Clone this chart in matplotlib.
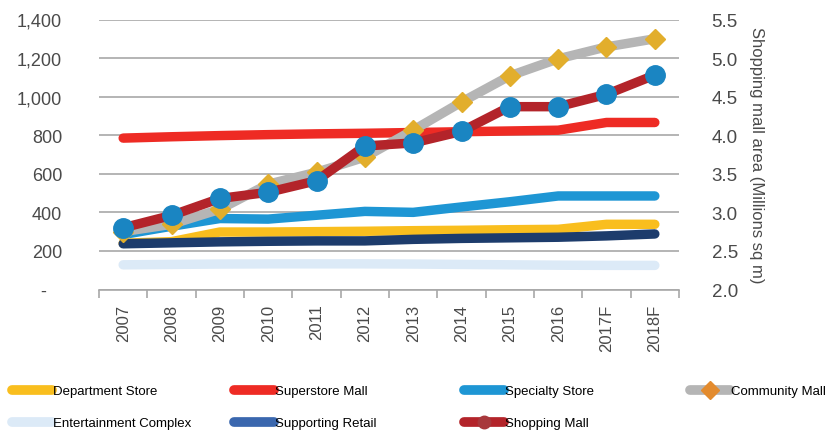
import matplotlib
matplotlib.use("Agg")
import matplotlib.pyplot as plt
from matplotlib.lines import Line2D
from matplotlib.ticker import FixedLocator, FuncFormatter
import numpy as np

plt.rcParams['font.family'] = ['Liberation Sans', 'DejaVu Sans']

# yearly figures (2017/2018 are forecasts)
years = ['2007', '2008', '2009', '2010', '2011', '2012',
         '2013', '2014', '2015', '2016', '2017F', '2018F']
department_store = [240, 248, 298, 298, 300, 302, 305, 307, 310, 312, 338, 338]
superstore_mall = [785, 792, 798, 803, 807, 810, 814, 818, 822, 826, 866, 866]
specialty_store = [285, 328, 368, 365, 385, 405, 400, 428, 455, 485, 485, 485]
community_mall = [300, 338, 416, 546, 608, 686, 826, 972, 1108, 1196, 1258, 1300]
entertainment_complex = [128, 130, 132, 133, 133, 133, 132, 130, 128, 126, 125, 125]
supporting_retail = [237, 242, 247, 250, 252, 252, 260, 265, 268, 271, 278, 288]
# shopping mall area, millions sq m (right axis)
shopping_mall_area = [2.80, 2.96, 3.18, 3.26, 3.41, 3.86, 3.90, 4.05, 4.37, 4.37, 4.53, 4.78]

left_ticks = [0, 200, 400, 600, 800, 1000, 1200, 1400]
right_ticks = [2.0, 2.5, 3.0, 3.5, 4.0, 4.5, 5.0, 5.5]

c_dept = '#F9BE1E'
c_super = '#EE2B24'
c_spec = '#1E96D4'
c_comm = '#B5B5B5'
c_diamond = '#E2AE2C'
c_ent = '#DCEAF7'
c_supp = '#1D3C6C'
c_mall = '#B3242A'
c_dot = '#1A85C2'
c_text = '#4A4A4A'

W, H = 833, 435
fig = plt.figure(figsize=(W / 100, H / 100), dpi=100)
ax = fig.add_axes([99 / W, 1 - 290.5 / H, 580 / W, 270 / H])

x = np.arange(len(years))
lw = 6.8
kw = dict(solid_capstyle='round', solid_joinstyle='round')

ax.plot(x, entertainment_complex, color=c_ent, lw=lw, zorder=2, **kw)
ax.plot(x, department_store, color=c_dept, lw=lw, zorder=3, **kw)
ax.plot(x, supporting_retail, color=c_supp, lw=lw, zorder=4, **kw)
ax.plot(x, specialty_store, color=c_spec, lw=lw, zorder=5, **kw)
ax.plot(x, superstore_mall, color=c_super, lw=lw, zorder=6, **kw)
ax.plot(x, community_mall, color=c_comm, lw=lw, zorder=7,
        marker='D', ms=10, mfc=c_diamond, mec=c_diamond, **kw)

ax.set_xlim(-0.5, len(years) - 0.5)
ax.set_ylim(0, 1400)
ax.yaxis.set_major_locator(FixedLocator(left_ticks))
ax.yaxis.set_major_formatter(FuncFormatter(lambda v, p: '-   ' if v == 0 else f'{int(v):,}'))
ax.grid(axis='y', color='#A8A8A8', lw=1.2)
ax.set_axisbelow(True)

# category boundaries carry the tick marks, labels sit in between
ax.set_xticks(np.arange(len(years) + 1) - 0.5)
ax.set_xticklabels([])
ax.set_xticks(x, minor=True)
ax.set_xticklabels(years, minor=True, rotation=90, fontsize=12, color=c_text)
ax.tick_params(axis='x', which='major', length=6, width=1.2, color='#A8A8A8')
ax.tick_params(axis='x', which='minor', length=0, pad=10)
ax.tick_params(axis='y', length=0, labelsize=13, pad=26.5, labelcolor=c_text)

for s in ['top', 'right', 'left']:
    ax.spines[s].set_visible(False)
ax.spines['bottom'].set_color('#A8A8A8')
ax.spines['bottom'].set_linewidth(1.2)

# shopping mall area on its own scale
ax2 = ax.twinx()
ax2.plot(x, shopping_mall_area, color=c_mall, lw=lw, zorder=8,
         marker='o', ms=14, mfc=c_dot, mec=c_dot, **kw)
ax2.set_ylim(2.0, 5.5)
ax2.yaxis.set_major_locator(FixedLocator(right_ticks))
ax2.yaxis.set_major_formatter(FuncFormatter(lambda v, p: f'{v:.1f}'))
ax2.tick_params(axis='y', length=0, labelsize=13.5, pad=23.5, labelcolor=c_text)
for s in ['top', 'right', 'left', 'bottom']:
    ax2.spines[s].set_visible(False)
ax2.set_ylabel('Shopping mall area (Millions sq m)', rotation=270, fontsize=12,
               color=c_text, labelpad=8, va='bottom')

# legend, four columns placed by hand
def handle(color, marker=None, mcolor=None):
    return Line2D([0], [0], color=color, lw=7, solid_capstyle='round',
                  marker=marker, ms=9, mfc=mcolor, mec=mcolor)

columns = [
    (12, [(handle(c_dept), 'Department Store'), (handle(c_ent), 'Entertainment Complex')]),
    (234, [(handle(c_super), 'Superstore Mall'), (handle('#3A67AE'), 'Supporting Retail')]),
    (464, [(handle(c_spec), 'Specialty Store'), (handle(c_mall, 'o', '#A8383C'), 'Shopping Mall')]),
    (690, [(handle(c_comm, 'D', '#E38B2E'), 'Community Mall')]),
]
for xpos, entries in columns:
    fig.legend([e[0] for e in entries], [e[1] for e in entries],
               loc='upper left', bbox_to_anchor=(xpos / W, 1 - 386 / H),
               frameon=False, borderpad=0, borderaxespad=0,
               handlelength=3.0, handletextpad=0.1, labelspacing=1.5,
               prop={'size': 9.5})

fig.savefig('out.png', dpi=100)
